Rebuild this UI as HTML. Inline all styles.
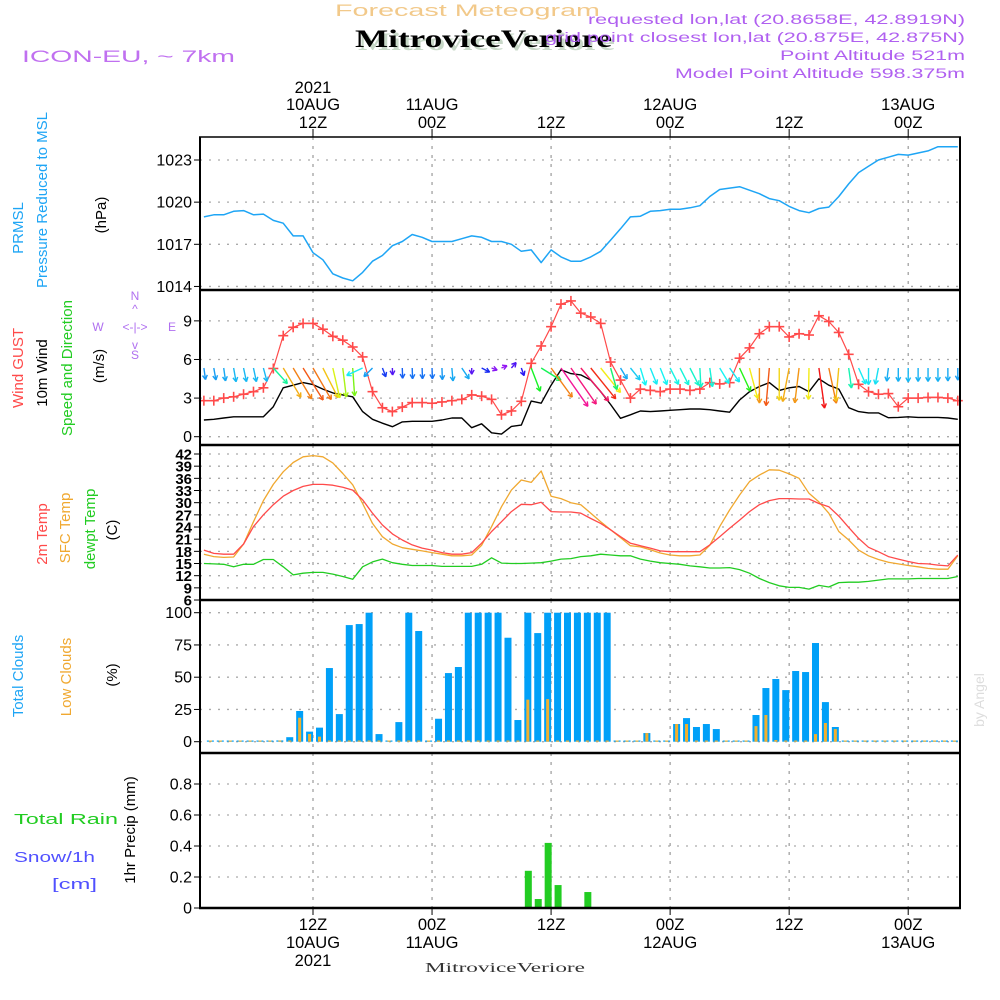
<!DOCTYPE html>
<html><head><meta charset="utf-8"><style>
html,body{margin:0;padding:0;background:#fff;}
svg{display:block;font-family:"Liberation Sans",sans-serif;}
</style></head><body>
<svg id="chart" width="1000" height="1000" viewBox="0 0 1000 1000" xmlns="http://www.w3.org/2000/svg">
<rect width="1000" height="1000" fill="#fff"/>
<g>
<text x="335" y="16" textLength="265" lengthAdjust="spacingAndGlyphs" font-size="17" fill="#f2c98a">Forecast Meteogram</text>
<text x="358" y="50" textLength="257" lengthAdjust="spacingAndGlyphs" font-family="Liberation Serif,serif" font-weight="bold" font-size="25" fill="#c8d8c8">MitroviceVeriore</text>
<text x="355" y="47" textLength="257" lengthAdjust="spacingAndGlyphs" font-family="Liberation Serif,serif" font-weight="bold" font-size="25" fill="#000">MitroviceVeriore</text>
<text x="22" y="62" textLength="213" lengthAdjust="spacingAndGlyphs" font-size="17" fill="#c070f0">ICON-EU, ~ 7km</text>
<g font-size="13.5" fill="#b060f0">
<text x="588" y="24" textLength="377" lengthAdjust="spacingAndGlyphs">requested lon,lat (20.8658E, 42.8919N)</text>
<text x="545" y="42" textLength="420" lengthAdjust="spacingAndGlyphs">grid point closest lon,lat (20.875E, 42.875N)</text>
<text x="780" y="60" textLength="185" lengthAdjust="spacingAndGlyphs">Point Altitude 521m</text>
<text x="675" y="78" textLength="290" lengthAdjust="spacingAndGlyphs">Model Point Altitude 598.375m</text>
</g>
</g>
<g id="plot"></g>
</svg>
<script>
// ---------- data (hours 1..77 since 10AUG 00Z) ----------
const timeLabels = ["12Z","00Z","12Z","00Z","12Z","00Z"];
const dateLabels = ["10AUG","11AUG","","12AUG","","13AUG"];
const gridHours = [12,24,36,48,60,72];
const pressure = [1018.95,1019.1,1019.1,1019.35,1019.4,1019.1,1019.15,1018.7,1018.5,1017.6,1017.6,1016.4,1015.9,1014.9,1014.6,1014.4,1015.0,1015.8,1016.2,1016.9,1017.2,1017.7,1017.5,1017.2,1017.2,1017.2,1017.4,1017.6,1017.5,1017.2,1017.2,1017.0,1016.5,1016.6,1015.7,1016.6,1016.1,1015.8,1015.8,1016.1,1016.5,1017.3,1018.1,1018.95,1019.0,1019.35,1019.4,1019.5,1019.5,1019.6,1019.75,1020.4,1020.9,1021.0,1021.1,1020.85,1020.6,1020.25,1020.1,1019.7,1019.4,1019.25,1019.55,1019.65,1020.4,1021.3,1022.1,1022.55,1023.0,1023.2,1023.4,1023.35,1023.5,1023.65,1023.95,1023.95,1023.95];
const gust = [2.8,2.8,3.0,3.1,3.3,3.5,3.8,5.3,7.85,8.5,8.8,8.8,8.35,7.8,7.5,6.97,6.2,3.5,2.25,1.95,2.3,2.65,2.65,2.6,2.7,2.8,2.9,3.25,3.15,2.9,1.7,2.0,2.75,5.7,7.05,8.55,10.3,10.55,9.6,9.3,8.8,5.8,4.4,3.0,3.7,3.6,3.5,3.7,3.7,3.6,3.7,4.2,4.1,4.2,6.1,6.9,8.0,8.55,8.55,7.75,8.0,7.9,9.4,8.95,8.1,6.4,4.07,3.5,3.3,3.35,2.33,3.0,3.0,3.05,3.05,3.0,2.8];
const windSpeed = [1.3,1.35,1.45,1.55,1.55,1.55,1.55,2.33,3.8,4.0,4.2,4.05,3.7,3.4,3.25,3.1,1.95,1.35,1.05,0.78,1.15,1.2,1.2,1.2,1.3,1.45,1.45,0.7,1.0,0.3,0.2,0.8,0.9,2.77,2.6,4.0,5.2,4.9,4.8,4.4,3.5,2.5,1.43,1.7,2.0,1.95,2.0,2.05,2.1,2.15,2.15,2.1,2.0,1.9,2.85,3.5,3.9,4.2,3.6,3.8,3.9,3.5,4.5,4.0,3.7,2.25,1.95,1.85,1.85,1.48,1.5,1.55,1.5,1.5,1.5,1.45,1.35];
const windDir = [352,350,352,350,348,348,345,318,329,329,328,330,333,347,353,356,65,45,339,358,358,358,358,358,358,355,326,0,297,290,247,221,340,339,302,324,325,325,320,321,321,344,329,321,343,338,338,333,333,333,357,352,329,325,335,345,0,5,0,11,7,1,352,348,5,352,336,0,11,7,0,0,0,0,0,0,0];
const temp2m = [18.3,17.5,17.3,17.3,19.8,24.1,27.0,29.5,31.6,33.0,34.0,34.5,34.5,34.3,33.8,33.1,30.7,27.4,24.5,22.3,20.8,19.6,18.8,18.3,17.7,17.3,17.3,17.7,20.0,22.9,25.3,27.8,29.6,29.5,30.1,27.8,27.7,27.7,27.4,26.1,24.9,23.3,21.6,20.0,19.4,18.8,18.1,17.9,17.9,17.9,17.9,19.6,21.6,23.7,25.7,27.8,29.5,30.5,31.0,31.0,30.9,30.9,29.8,29.0,26.7,23.9,21.2,19.0,17.9,16.7,16.1,15.5,15.0,14.9,14.6,14.4,17.1];
const tempSfc = [17.3,16.7,16.5,16.6,19.8,25.3,30.5,34.5,37.6,39.9,41.3,41.6,41.3,39.8,37.2,34.4,29.8,24.9,21.6,19.8,18.9,18.5,18.1,17.7,17.3,16.9,16.9,17.1,19.5,24.1,29.0,33.1,35.6,35.0,37.8,31.6,31.0,30.0,29.5,27.4,25.3,23.3,21.4,19.4,19.1,18.4,17.6,17.1,16.9,16.9,17.1,19.5,24.1,28.2,31.9,35.2,36.8,38.1,38.0,37.1,36.0,32.3,30.2,27.4,22.9,20.8,18.3,16.9,16.0,15.3,14.9,14.5,14.2,13.8,13.6,13.6,16.9];
const dewpoint = [15.0,14.9,14.8,14.2,14.8,14.8,16.0,16.0,14.2,12.2,12.6,12.8,12.8,12.4,11.8,11.1,14.2,15.4,16.1,15.2,14.8,14.5,14.5,14.5,14.3,14.3,14.3,14.3,14.8,16.4,15.1,15.0,15.0,15.1,15.2,15.6,16.1,16.2,16.7,16.9,17.3,17.1,16.9,16.9,16.1,15.6,15.2,15.0,14.8,14.4,14.2,13.9,13.9,14.0,13.5,12.6,11.3,10.3,9.5,9.1,9.1,8.7,9.6,9.2,10.3,10.4,10.4,10.6,10.9,11.2,11.2,11.2,11.3,11.3,11.3,11.3,11.8];
const totalClouds = [0,0,0,0,0,0,0,1,3.5,23.8,7.8,10.9,57.1,21.4,90.4,91.2,100,5.9,0.5,15.2,100,85.8,0,17.8,53.2,57.9,100,100,100,100,80.6,16.8,100,84.2,100,100,100,100,100,100,100,0,0,0,6.7,0,0,13.7,18.3,11.4,13.7,9.8,0,0,0,20.7,41.6,48.6,40,54.8,54,76.5,30.7,11.4,0,0,0,0,0,0,0,0,0,0,0,0];
const lowClouds = [0,0,0,0,0,0,0,0,0,18.6,6,3.9,0,0,0,0,0,0,0,0,0,0,0,0,0,0,0,0,0,0,0,0,32.6,0,33,0,0,0,0,0,0,0,0,0,6.7,0,0,13.7,13.7,0,0,0,0,0,0,12.1,20.7,1.3,0,0,0,5.9,14.5,9.8,0,0,0,0,0,0,0,0,0,0,0,0];
const precipHours = [33,34,35,36,39];
const precipValues = [0.24,0.058,0.42,0.148,0.103];
const pTicks = [1023,1020,1017,1014];
const wTicks = [9,6,3,0];
const tTicks = [42,39,36,33,30,27,24,21,18,15,12,9,6];
const cTicks = [100,75,50,25,0];
const rTicks = [0.8,0.6,0.4,0.2,0];

// ---------- layout ----------
const NS="http://www.w3.org/2000/svg";
const plot=document.getElementById('plot');
const L=200,R=960;
const P={p:[137,290],w:[290,445],t:[445,600],c:[600,753],r:[753,908]};
const xH=h=>313+(h-12)*9.92;
const yP=v=>160+(1023-v)*14.05;
const yW=v=>436.7-v*12.87;
const yT=v=>454+(42-v)*4.056;
const yC=v=>741.7-v*1.29;
const yR=v=>908-v*155;
function mk(tag,attrs,parent){const e=document.createElementNS(NS,tag);for(const k in attrs)e.setAttribute(k,attrs[k]);(parent||plot).appendChild(e);return e;}
function txt(s,attrs,parent){const e=mk('text',attrs,parent);e.textContent=s;return e;}

function panelGrid(key,ticks,yf,fmt,fs,name,bold){
  const [t,b]=P[key];
  const g=mk('g',{});
  
  
  ticks.forEach(v=>{
    const y=yf(v);
    mk('line',{x1:L,x2:R,y1:y,y2:y,stroke:'#aaa','stroke-width':1.3,'stroke-dasharray':'2 7'},g);
    mk('line',{x1:L-6,x2:L,y1:y,y2:y,stroke:'#000','stroke-width':1},g);
    const tl=txt(fmt(v),{x:L-8,y:y+5.5,'text-anchor':'end','font-size':fs,fill:'#000','font-weight':bold?'bold':'normal'},g);
    
    
  });
  gridHours.forEach(h=>{
    const x=xH(h);
    mk('line',{x1:x,x2:x,y1:t,y2:b,stroke:'#999','stroke-width':1.2,'stroke-dasharray':'3 6'},g);
  });
}
panelGrid('p',pTicks,yP,v=>String(v),16,'pressure');
panelGrid('w',wTicks,yW,v=>String(v),16,'wind');
panelGrid('t',tTicks,yT,v=>String(v),15,'temperature',true);
panelGrid('c',cTicks,yC,v=>String(v),16,'clouds');
panelGrid('r',rTicks,yR,v=>v===0?'0':v.toFixed(1),16,'precip');

gridHours.forEach((h,i)=>{
  const x=xH(h);
  mk('line',{x1:x,x2:x,y1:129,y2:137,stroke:'#000','stroke-width':1});
  mk('line',{x1:x,x2:x,y1:908,y2:915,stroke:'#000','stroke-width':1});
  const a=txt(timeLabels[i],{x:x,y:128,'text-anchor':'middle','font-size':16.5,fill:'#000'});
  
  
  if(dateLabels[i]){const d=txt(dateLabels[i],{x:x,y:110,'text-anchor':'middle','font-size':16.5,fill:'#000'});
    
    }
  const b=txt(timeLabels[i],{x:x,y:930,'text-anchor':'middle','font-size':16.5,fill:'#000'});
  
  
  if(dateLabels[i]){const d2=txt(dateLabels[i],{x:x,y:948,'text-anchor':'middle','font-size':16.5,fill:'#000'});
    
    }
});
const y1=txt('2021',{x:xH(12),y:93,'text-anchor':'middle','font-size':16.5,fill:'#000'});


const y2=txt('2021',{x:xH(12),y:966,'text-anchor':'middle','font-size':16.5,fill:'#000'});


const bl=txt('MitroviceVeriore',{x:425,y:972,textLength:160,lengthAdjust:'spacingAndGlyphs','font-size':14,'font-family':'Liberation Serif,serif',fill:'#333'});



function line(arr,xf,yf,color,name,w){
  const pts=arr.map((v,i)=>xf(i+1).toFixed(1)+','+yf(v).toFixed(1)).join(' ');
  const e=mk('polyline',{points:pts,fill:'none',stroke:color,'stroke-width':w||1.4,'stroke-linejoin':'round'});
  
  
  return e;
}
line(pressure,xH,yP,'#1ea5f5','pressure-line',1.5);
line(windSpeed,xH,yW,'#000','wind-speed-line',1.4);
line(gust,xH,yW,'#ff4a4a','wind-gust-line',1.2);
gust.forEach((v,i)=>{
  const x=xH(i+1),y=yW(v);
  const g=mk('g',{stroke:'#ff4a4a','stroke-width':1.6});
  
  
  mk('line',{x1:x-5,x2:x+5,y1:y,y2:y},g);
  mk('line',{x1:x,x2:x,y1:y-5,y2:y+5},g);
});
const hueStops=[[0,280],[0.8,255],[1.3,205],[2.0,180],[2.7,130],[3.3,75],[3.5,58],[3.9,35],[4.5,0],[5,-35],[9,-35]];
function hueFor(s){for(let i=0;i<hueStops.length-1;i++){const[a,ha]=hueStops[i],[b,hb]=hueStops[i+1];if(s<=b)return ha+(hb-ha)*(s-a)/(b-a);}return -35;}
windDir.forEach((d,i)=>{
  const s=windSpeed[i],len=Math.max(6,s*9);
  const rad=d*Math.PI/180;
  const ux=-Math.sin(rad),uy=Math.cos(rad);
  const x0=xH(i+1),y0=368,x1=x0+ux*len,y1=y0+uy*len;
  const h=(hueFor(s)+360)%360;
  const col='hsl('+h.toFixed(0)+',90%,52%)';
  const g=mk('g',{stroke:col,'stroke-width':1.4,fill:'none'});
  
  
  mk('line',{x1:x0,y1:y0,x2:x1,y2:y1},g);
  const hl=5,ang=Math.atan2(uy,ux);
  [0.5,-0.5].forEach(o=>{mk('line',{x1:x1,y1:y1,x2:x1-hl*Math.cos(ang+o),y2:y1-hl*Math.sin(ang+o)},g);});
});
line(tempSfc,xH,yT,'#f0a830','sfc-temp-line',1.3);
line(temp2m,xH,yT,'#ff4a4a','temp-2m-line',1.3);
line(dewpoint,xH,yT,'#22cc22','dewpoint-line',1.3);
totalClouds.forEach((v,i)=>{
  const x=xH(i+1)+6.5,y=yC(v);
  const b=mk('rect',{x:x-3.5,y:Math.min(y,740.5),width:7,height:Math.max(741.7-y,1.2),fill:'#00a0f8'});
  
  
  const lv=lowClouds[i],ly=yC(lv);
  const o=mk('rect',{x:x-1.5,y:Math.min(ly,740.5),width:3,height:Math.max(741.7-ly,1.2),fill:'#f0b030'});
  
  
});
precipHours.forEach((h,i)=>{
  const x=xH(h)+7,y=yR(precipValues[i]);
  const b=mk('rect',{x:x-3.5,y:y,width:7,height:908-y,fill:'#22cc22'});
  
  
});
[137,290,445,600,753,908].forEach(y=>mk('line',{x1:L-1,x2:R+1,y1:y,y2:y,stroke:'#000','stroke-width':y===137?1.5:2.5}));
mk('line',{x1:L,x2:L,y1:137,y2:908,stroke:'#000','stroke-width':2});
mk('line',{x1:R,x2:R,y1:137,y2:908,stroke:'#000','stroke-width':2});
</script>
<script>
(function(){
const NS="http://www.w3.org/2000/svg";
const svg=document.getElementById('chart');
function rt(s,x,y,col,fs,name){const e=document.createElementNS(NS,'text');e.setAttribute('transform','translate('+x+','+y+') rotate(-90)');e.setAttribute('text-anchor','middle');e.setAttribute('font-size',fs);e.setAttribute('fill',col);e.textContent=s;


svg.appendChild(e);}
function ht(s,x,y,col,fs,len,name){const e=document.createElementNS(NS,'text');e.setAttribute('x',x);e.setAttribute('y',y);e.setAttribute('font-size',fs);e.setAttribute('fill',col);e.setAttribute('textLength',len);e.setAttribute('lengthAdjust','spacingAndGlyphs');e.textContent=s;


svg.appendChild(e);}
rt('PRMSL',23,228,'#1ea5f5',15,'prmsl-label');
rt('Pressure Reduced to MSL',47,200,'#1ea5f5',15,'pressure-label');
rt('(hPa)',106,215,'#000',15,'hpa-unit');
rt('Wind GUST',23,368,'#ff4a4a',15,'gust-label');
rt('10m Wind',47,373,'#000',15,'wind-10m-label');
rt('Speed and Direction',72,368,'#22cc22',15,'speed-direction-label');
rt('(m/s)',104,366,'#000',15,'ms-unit');
rt('2m Temp',47,534,'#ff4a4a',15,'temp-2m-label');
rt('SFC Temp',70,528,'#f0a830',15,'sfc-temp-label');
rt('dewpt Temp',95,529,'#22cc22',15,'dewpt-label');
rt('(C)',117,530,'#000',15,'celsius-unit');
rt('Total Clouds',23,676,'#1ea5f5',15,'total-clouds-label');
rt('Low Clouds',71,677,'#f0a830',15,'low-clouds-label');
rt('(%)',117,675,'#000',15,'percent-unit');
rt('1hr Precip (mm)',135,830,'#000',15,'precip-unit');
rt('by Angel',984,700,'#ddd',14,'credit-label');
ht('Total   Rain',14,824,'#22cc22',15,104,'rain-label');
ht('Snow/1h',14,862,'#5050ff',15,81,'snow-label');
ht('[cm]',52,889,'#5050ff',15,45,'cm-label');
const c=[['N',135,300],['W',98,331],['E',172,331],['S',135,359],['<-|->',135,331],['^',135,313],['v',135,349]];
c.forEach(a=>{const e=document.createElementNS(NS,'text');e.setAttribute('x',a[1]);e.setAttribute('y',a[2]);e.setAttribute('text-anchor','middle');e.setAttribute('font-size',12);e.setAttribute('fill','#b070f0');e.textContent=a[0];


svg.appendChild(e);});
})();
</script>
</body></html>
